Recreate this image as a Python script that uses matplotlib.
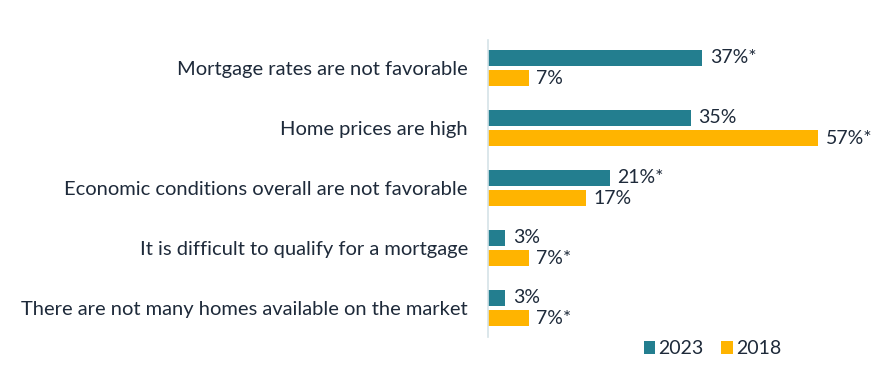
import matplotlib.pyplot as plt
import numpy as np

categories = [
    "Mortgage rates are not favorable",
    "Home prices are high",
    "Economic conditions overall are not favorable",
    "It is difficult to qualify for a mortgage",
    "There are not many homes available on the market",
]
values_2023 = [37, 35, 21, 3, 3]
values_2018 = [7, 57, 17, 7, 7]
labels_2023 = ["37%*", "35%", "21%*", "3%", "3%"]
labels_2018 = ["7%", "57%*", "17%", "7%*", "7%*"]

teal = "#237e8f"
gold = "#ffb400"
text_color = "#1e2a3a"

plt.rcParams['font.family'] = ['Lato', 'DejaVu Sans']

fig = plt.figure(figsize=(8.88, 3.76), dpi=100)
W, H = 888, 376
px = 5.79  # pixels per percent
left = 488
ax = fig.add_axes([left / W, (H - 337) / H, (W - left) / W, (337 - 40) / H])

y = np.arange(len(categories))
bh = 0.26
off = 0.167
ax.barh(y - off, values_2023, height=bh, color=teal, label="2023")
ax.barh(y + off, values_2018, height=bh, color=gold, label="2018")

ax.set_xlim(0, (W - left) / px)
ax.set_ylim(4 + (337 - 308) / 60, -(68 - 40) / 60)

for i in range(len(categories)):
    ax.text(values_2023[i] + 1.3, y[i] - off, labels_2023[i], va='center', ha='left',
            fontsize=14, color=text_color)
    ax.text(values_2018[i] + 1.3, y[i] + off, labels_2018[i], va='center', ha='left',
            fontsize=14, color=text_color)

ax.set_yticks(y)
ax.set_yticklabels(categories, fontsize=14.5, color=text_color)
ax.tick_params(axis='y', length=0, pad=14.5)
ax.set_xticks([])
for s in ['top', 'right', 'bottom']:
    ax.spines[s].set_visible(False)
ax.spines['left'].set_color('#d5e3e8')
ax.spines['left'].set_linewidth(1.2)

leg = ax.legend(loc='lower left', bbox_to_anchor=((636 - left) / (W - left), -0.095),
                ncol=2, frameon=False, fontsize=14, handlelength=0.6, handleheight=0.6,
                handletextpad=0.15, columnspacing=0.9, borderaxespad=0)
for t in leg.get_texts():
    t.set_color(text_color)

fig.savefig("out.png", dpi=100)
